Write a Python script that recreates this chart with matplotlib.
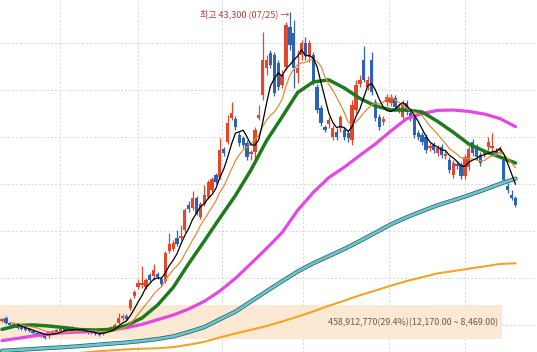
import numpy as np
import pandas as pd
import matplotlib
matplotlib.use("Agg")
import matplotlib.pyplot as plt
import matplotlib.patheffects as pe

# daily candles (price in won)
opens = [10420, 10740, 10210, 10100, 9890, 9780, 9680, 9570, 9360, 9140,
         9140, 8930, 8820, 9140, 9460, 9360, 9570, 9460, 9780, 9360,
         9570, 9460, 9360, 9300, 9250, 9140, 9040, 9360, 9570, 9680,
         10210, 10740, 10950, 11800, 13080, 14040, 14260, 14040, 15320, 15210,
         15420, 14890, 14680, 17870, 18080, 19250, 19250, 20100, 22770, 22450,
         23520, 21490, 22870, 23630, 24370, 25960, 25750, 28730, 29470, 32020,
         31920, 30210, 29890, 29360, 28190, 28410, 32020, 34470, 37340, 38940,
         38720, 37870, 35530, 37450, 41700, 41060, 36810, 38720, 40000, 38510,
         38720, 35320, 33080, 31070, 31380, 30000, 30530, 30960, 30750, 30430,
         29680, 32870, 35640, 38190, 35320, 38190, 33720, 32130, 31600, 33720,
         33620, 34150, 32870, 32130, 33620, 32550, 32130, 30430, 30210, 30000,
         28830, 29150, 28300, 28940, 27980, 27560, 25960, 27130, 27030, 25860,
         26810, 29470, 28940, 28090, 28190, 28940, 28830, 28510, 28510, 27560,
         24790, 23840, 23520]
closes = [10630, 10210, 9990, 9890, 9680, 9570, 9460, 9360, 9140, 8930,
          8930, 8610, 9250, 9360, 9250, 9570, 9360, 9780, 9360, 9570,
          9360, 9250, 9140, 9140, 9040, 8930, 9360, 9570, 9780, 9990,
          10740, 10950, 10630, 12660, 13510, 14470, 14470, 14790, 14790, 15850,
          15100, 14360, 17650, 18610, 18720, 18610, 19470, 22230, 22340, 23520,
          21910, 22870, 23840, 25220, 25540, 25220, 28620, 28300, 31490, 32550,
          31070, 29360, 29150, 27870, 28410, 30750, 32340, 38190, 38190, 37660,
          34680, 35320, 36600, 41920, 39790, 37340, 37340, 40000, 38720, 40000,
          35850, 32870, 31490, 30750, 31810, 30960, 30000, 32130, 30000, 29890,
          33400, 35530, 36060, 36060, 36060, 34790, 32020, 31070, 31920, 34260,
          34260, 33190, 33190, 33400, 32660, 32020, 30210, 30000, 29470, 28620,
          29040, 28620, 28830, 28090, 28190, 26500, 27240, 26920, 25860, 27870,
          28730, 28300, 27870, 27240, 28410, 29470, 29040, 28300, 28730, 25430,
          24370, 23520, 22770]
highs = [10740, 10950, 10310, 10210, 9990, 9890, 9780, 9680, 9460, 9250,
         9250, 9040, 9360, 9460, 9570, 9680, 9680, 9890, 9890, 9680,
         9680, 9570, 9460, 9400, 9360, 9250, 9460, 9680, 9890, 10210,
         11270, 11170, 11170, 12870, 13720, 14890, 16270, 15000, 15530, 16480,
         15630, 15100, 17870, 19790, 19040, 20100, 20640, 22450, 23190, 24260,
         23730, 23080, 24900, 25430, 25750, 26180, 29890, 28940, 32340, 33720,
         32230, 30530, 30110, 29680, 28620, 31070, 33400, 41170, 38720, 39260,
         39040, 38190, 37130, 42230, 43300, 42450, 39260, 40320, 40640, 40320,
         39040, 35640, 33400, 31280, 32130, 31280, 30960, 32340, 31070, 30750,
         33940, 36060, 36600, 39680, 36490, 39040, 34040, 32450, 32230, 34570,
         34570, 34470, 33510, 33940, 33940, 32870, 32450, 30750, 30530, 30320,
         29360, 29470, 29150, 29260, 28510, 27870, 27560, 27450, 27340, 28190,
         29040, 29790, 29260, 28410, 28730, 30000, 30430, 28830, 29040, 27870,
         25110, 24370, 23730]
lows = [10310, 10100, 9890, 9780, 9570, 9460, 9360, 9250, 9040, 8820,
        8720, 8470, 8610, 9040, 9140, 9250, 9250, 9360, 9250, 9250,
        9250, 9140, 9040, 9040, 8930, 8820, 8930, 9250, 9460, 9570,
        10100, 10530, 10530, 11590, 12870, 13830, 13940, 13830, 14570, 14790,
        14890, 14150, 14470, 17650, 17870, 18400, 19040, 19890, 22020, 22230,
        21700, 21280, 22660, 23420, 24150, 25010, 25540, 27980, 29260, 31810,
        30750, 29040, 28830, 27560, 27560, 27240, 31810, 33940, 36600, 37340,
        34360, 35000, 35210, 37130, 39260, 35210, 35740, 38190, 38190, 37980,
        35530, 32550, 31170, 30530, 30960, 29680, 29680, 30530, 29680, 29470,
        29150, 32550, 35320, 35850, 35000, 34470, 31700, 30750, 31280, 33300,
        33300, 32870, 32550, 31810, 32340, 31700, 29890, 29680, 29150, 28300,
        28510, 28300, 27980, 27770, 27660, 26180, 25640, 26600, 25540, 25540,
        26500, 27980, 27560, 26920, 27870, 28620, 28510, 27980, 28190, 25110,
        24050, 23300, 22550]

# longer moving averages read every 4th session
ma_idx = list(range(0, 133, 4))
ma20 = [9530, 9940, 10000, 9890, 9720, 9510, 9460, 9530, 9940, 10740, 12120, 13990,
        16530, 18930, 21380, 23770, 26490, 29600, 32130, 34730, 35850, 36080, 35210,
        34100, 33300, 32870, 32870, 32660, 31650, 30500, 29250, 28490, 27870, 27230]
ma60 = [8330, 8570, 8830, 9030, 9170, 9250, 9330, 9470, 9710, 10060, 10560, 11050,
        11700, 12510, 13610, 14960, 16530, 18140, 19830, 22200, 24090, 25680, 26790,
        28050, 29260, 30650, 31940, 32490, 32830, 32870, 32720, 32440, 31960, 31100]
ma120 = [7240, 7350, 7440, 7550, 7630, 7750, 7880, 8010, 8140, 8300, 8500, 8780,
         9250, 9770, 10600, 11410, 12510, 13580, 14650, 15680, 16560, 17320, 18080,
         18930, 19820, 20710, 21450, 22110, 22740, 23260, 23800, 24390, 25010, 25570]
ma240_idx = list(range(20, 133, 4))
ma240 = [7020, 7180, 7290, 7400, 7470, 7520, 7640, 7900, 8200, 8670, 9090, 9480,
         9880, 10370, 10880, 11440, 12040, 12580, 13160, 13660, 14180, 14670, 15080,
         15490, 15730, 15990, 16230, 16490, 16560]

band_low, band_high = 8469, 12170
band_label = "458,912,770(29.4%)(12,170.00 ~ 8,469.00)"
peak_label = "07/25"

o = np.array(opens)
c = np.array(closes)
h = np.array(highs)
l = np.array(lows)
x = np.arange(len(o))
up = c >= o
red, blue = "#e2472c", "#2d63b6"
cols = np.where(up, red, blue)

fig = plt.figure(figsize=(5.37, 3.52), dpi=100)
ax = fig.add_axes([0, 0, 1, 1])
ax.set_xlim(-0.514, 137.53)
ax.set_ylim(7122, 44575)
ax.axis("off")

# grid
for yv in range(10000, 45000, 5000):
    ax.axhline(yv, color="#d6d6d6", lw=0.7, ls=(0, (2, 2)), zorder=0)
for xv in [14.9, 35.0, 56.6, 77.4, 99.5, 119.0]:
    ax.axvline(xv, color="#d6d6d6", lw=0.7, ls=(0, (2, 2)), zorder=0)

# price band
ax.fill_between([-0.514, 128.5], band_low, band_high, color="#fbe9d4", lw=0, zorder=1)
ax.text(127.6, 10250, band_label, ha="right", va="center", fontsize=6.4,
        color="#6e5a3e", family=["Noto Sans CJK KR", "DejaVu Sans"], zorder=8)

# candles
ax.vlines(x, l, h, colors=cols, lw=0.9, zorder=3)
body = np.maximum(np.abs(c - o), 100)
ax.bar(x, body, bottom=np.minimum(o, c), width=0.85, color=cols, lw=0, zorder=4)

# moving averages
ma5 = pd.Series(c).rolling(5, min_periods=5).mean()
ma10 = pd.Series(c).rolling(10, min_periods=3).mean()
kw = dict(solid_joinstyle="round", solid_capstyle="round")
ax.plot(ma240_idx, ma240, color="#f2a424", lw=1.5, zorder=5, **kw)
ax.plot(ma_idx, ma120, color="#6cc5ca", lw=2.0, zorder=5,
        path_effects=[pe.Stroke(linewidth=3.0, foreground="#23585f"), pe.Normal()], **kw)
ax.plot(ma_idx, ma60, color="#e348e3", lw=2.3, zorder=5, **kw)
ax.plot(ma_idx, ma20, color="#1d7b1d", lw=2.5, zorder=6, **kw)
ax.plot(x, ma10, color="#e08a3a", lw=0.9, zorder=6, **kw)
ax.plot(x, ma5, color="black", lw=0.9, zorder=7, **kw)

# peak annotation
peak = int(np.argmax(h))
ax.text(peak - 0.1, 43080, f"최고 {h[peak]:,} ({peak_label}) →", ha="right", va="center",
        fontsize=6.5, color="#b23c30", family=["Noto Sans CJK KR", "DejaVu Sans"], zorder=8)

fig.savefig("out.png", dpi=100)
